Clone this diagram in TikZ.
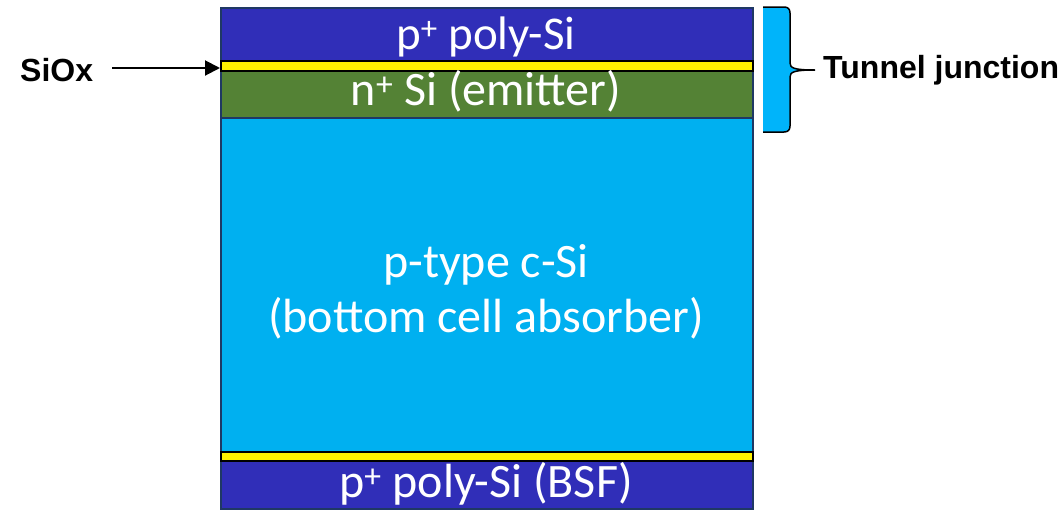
\documentclass[tikz,border=0pt]{standalone}
\usepackage{fontspec}
\setmainfont{Carlito}
\newfontfamily\labelfont{Liberation Sans}
\usetikzlibrary{arrows.meta}
\definecolor{polyblue}{RGB}{48,46,184}
\definecolor{emgreen}{RGB}{84,130,53}
\definecolor{absblue}{RGB}{0,176,240}
\definecolor{bracefill}{RGB}{0,180,250}
\definecolor{edgenavy}{RGB}{31,56,100}
\tikzset{
  layer/.style={draw=edgenavy, line width=2pt, anchor=north west, inner sep=0pt,
    minimum width=532pt},
  oxide/.style={draw=black, fill=yellow, line width=2pt, anchor=north west, inner sep=0pt,
    minimum width=532pt},
  ltext/.style={text=white, inner sep=0pt, anchor=base, font=\fontsize{48}{50}\selectfont},
  lbl/.style={font=\labelfont\bfseries\fontsize{32}{36}\selectfont, inner sep=0pt},
}
\begin{document}
\begin{tikzpicture}[x=1pt,y=-1pt]
\useasboundingbox (0,0) rectangle (1064,509);
% layers
\node[layer, fill=absblue, minimum height=334pt] (abs) at (220,117) {};
\node[layer, fill=emgreen, minimum height=47pt] (emit) at (220,70) {};
\node[layer, fill=polyblue, minimum height=53pt] (top) at (220,7) {};
\node[oxide, minimum height=10pt] (ox1) at (220,60) {};
\node[layer, fill=polyblue, minimum height=48pt] (bsf) at (220,460) {};
\node[oxide, minimum height=9pt] (ox2) at (220,451) {};
% layer texts
\node[ltext, font=\fontsize{47}{50}\selectfont] (ttop) at (486,49) {p\textsuperscript{+} poly-Si};
\node[ltext] (temit) at (486,105) {n\textsuperscript{+} Si (emitter)};
\node[ltext] (tabsa) at (486,277) {p-type c-Si};
\node[ltext] (tabsb) at (486,332) {(bottom cell absorber)};
\node[ltext] (tbsf) at (486,497) {p\textsuperscript{+} poly-Si (BSF)};
% SiOx label and arrow
\node[lbl, anchor=west] (siox) at (20,70) {SiOx};
\coordinate (arrstart) at (112,68);
\draw[line width=2pt, -{Triangle[length=15pt,width=15pt]}] (arrstart) -- (arrstart -| ox1.west);
% brace
\fill[bracefill] (763,7) -- (784,7) .. controls (788,7) and (790,9) .. (790,13) -- (790,63)
  .. controls (790,68) and (794,70) .. (815,70) .. controls (794,70) and (790,72) .. (790,77)
  -- (790,126) .. controls (790,130) and (788,132) .. (784,132) -- (763,132) -- cycle;
\draw[line width=1.5pt] (763,7) -- (784,7) .. controls (788,7) and (790,9) .. (790,13) -- (790,63)
  .. controls (790,68) and (794,70) .. (815,70) .. controls (794,70) and (790,72) .. (790,77)
  -- (790,126) .. controls (790,130) and (788,132) .. (784,132) -- (763,132);
\coordinate (bracetip) at (815,70);
\node[lbl, anchor=west] (tj) at (823,70) {Tunnel junction};
\end{tikzpicture}
\end{document}
